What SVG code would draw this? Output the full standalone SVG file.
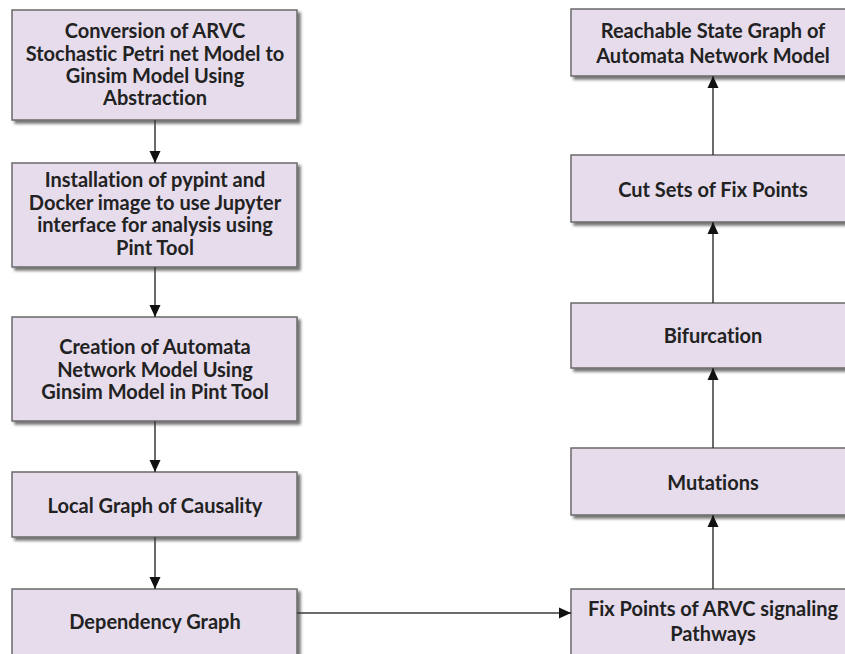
<svg xmlns="http://www.w3.org/2000/svg" width="845" height="654" viewBox="0 0 845 654">
  <defs>
    <filter id="sh" x="-5%" y="-10%" width="115%" height="130%">
      <feGaussianBlur in="SourceAlpha" stdDeviation="1.5"/>
      <feOffset dx="3" dy="3" result="b"/>
      <feComponentTransfer><feFuncA type="linear" slope="0.55"/></feComponentTransfer>
      <feMerge><feMergeNode/><feMergeNode in="SourceGraphic"/></feMerge>
    </filter>
    <marker id="ah" viewBox="0 0 12 12" refX="12" refY="6" markerWidth="12" markerHeight="12" markerUnits="userSpaceOnUse" orient="auto">
      <path d="M0,0.5 L12,6 L0,11.5 Z" fill="#111"/>
    </marker>
  </defs>
  <style>
    .box { fill: #e6dcec; stroke: #6a6a6a; stroke-width: 1.5; filter: url(#sh); }
    .t { font-family: Lato, "Open Sans", sans-serif; font-weight: bold; font-size: 20px; fill: #222; text-anchor: middle; font-variant-ligatures: none; }
    .c { stroke: #3a3a3a; stroke-width: 1.5; fill: none; marker-end: url(#ah); }
  </style>
  <rect width="845" height="654" fill="#ffffff"/>

  <g id="n1">
    <rect class="box" x="12" y="10" width="285" height="110"/>
    <text class="t" x="155" y="38">Conversion of ARVC</text>
    <text class="t" x="155" y="60.5">Stochastic Petri net Model to</text>
    <text class="t" x="155" y="83">Ginsim Model Using</text>
    <text class="t" x="155" y="105">Abstraction</text>
  </g>
  <g id="n2">
    <rect class="box" x="12" y="163" width="285" height="104"/>
    <text class="t" x="155" y="187">Installation of pypint and</text>
    <text class="t" x="155" y="209.5">Docker image to use Jupyter</text>
    <text class="t" x="155" y="232">interface for analysis using</text>
    <text class="t" x="155" y="254.5">Pint Tool</text>
  </g>
  <g id="n3">
    <rect class="box" x="12" y="317" width="285" height="104"/>
    <text class="t" x="155" y="354">Creation of Automata</text>
    <text class="t" x="155" y="376.5">Network Model Using</text>
    <text class="t" x="155" y="399">Ginsim Model in Pint Tool</text>
  </g>
  <g id="n4">
    <rect class="box" x="12" y="472" width="285" height="65"/>
    <text class="t" x="155" y="513">Local Graph of Causality</text>
  </g>
  <g id="n5">
    <rect class="box" x="12" y="589" width="285" height="80"/>
    <text class="t" x="155" y="629">Dependency Graph</text>
  </g>

  <g id="n6">
    <rect class="box" x="571" y="589" width="284" height="80"/>
    <text class="t" x="713" y="616">Fix Points of ARVC signaling</text>
    <text class="t" x="713" y="641">Pathways</text>
  </g>
  <g id="n7">
    <rect class="box" x="571" y="448" width="284" height="67"/>
    <text class="t" x="713" y="490">Mutations</text>
  </g>
  <g id="n8">
    <rect class="box" x="571" y="303" width="284" height="65"/>
    <text class="t" x="713" y="343">Bifurcation</text>
  </g>
  <g id="n9">
    <rect class="box" x="571" y="155" width="284" height="67"/>
    <text class="t" x="713" y="197">Cut Sets of Fix Points</text>
  </g>
  <g id="n10">
    <rect class="box" x="571" y="9" width="284" height="67"/>
    <text class="t" x="713" y="38">Reachable State Graph of</text>
    <text class="t" x="713" y="63">Automata Network Model</text>
  </g>

  <g id="connectors">
    <line class="c" x1="155" y1="120" x2="155" y2="163"/>
    <line class="c" x1="155" y1="267" x2="155" y2="317"/>
    <line class="c" x1="155" y1="421" x2="155" y2="472"/>
    <line class="c" x1="155" y1="537" x2="155" y2="589"/>
    <line class="c" x1="297" y1="613" x2="571" y2="613"/>
    <line class="c" x1="713" y1="589" x2="713" y2="515"/>
    <line class="c" x1="713" y1="448" x2="713" y2="368"/>
    <line class="c" x1="713" y1="303" x2="713" y2="222"/>
    <line class="c" x1="713" y1="155" x2="713" y2="76"/>
  </g>
</svg>
